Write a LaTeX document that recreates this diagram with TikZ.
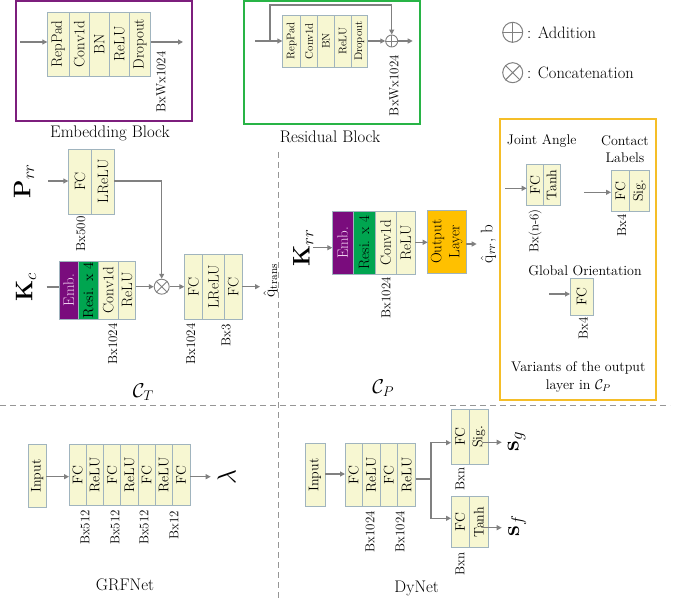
\RequirePackage{fix-cm}
\documentclass[tikz,border=0pt]{standalone}
\usepackage{amsmath}
\usepackage{graphicx}
\usetikzlibrary{arrows.meta}
\definecolor{cellfill}{RGB}{247,247,210}
\definecolor{cellborder}{RGB}{160,180,190}
\definecolor{embpurple}{RGB}{122,12,125}
\definecolor{embtext}{RGB}{245,215,245}
\definecolor{resgreen}{RGB}{0,165,80}
\definecolor{outorange}{RGB}{255,192,0}
\definecolor{arrgray}{RGB}{128,128,128}
\definecolor{embframe}{RGB}{125,30,125}
\definecolor{resframe}{RGB}{40,180,70}
\definecolor{yelframe}{RGB}{245,190,40}
\definecolor{dashgray}{RGB}{150,150,150}
\newcommand\cellat[7]{\node[cell,#6,minimum width={(#4)-(#2)},minimum height={(#5)-(#3)}] (#1) at ({((#2)+(#4))/2},{((#3)+(#5))/2}) {\rotatebox{90}{#7}};}
\begin{document}
\begin{tikzpicture}[x=1pt,y=-1pt,
  cell/.style={draw=cellborder, fill=cellfill, line width=0.6pt, inner sep=0pt, outer sep=0pt},
  f11/.style={font=\fontsize{11}{13}\selectfont},
  f13/.style={font=\fontsize{13}{15.6}\selectfont},
  f14/.style={font=\fontsize{14}{17}\selectfont},
  f15/.style={font=\fontsize{15}{18}\selectfont},
  emb/.style={fill=embpurple, text=embtext},
  resi/.style={fill=resgreen},
  dim/.style={rotate=90, inner sep=0pt, font=\fontsize{13}{15.6}\selectfont},
  title/.style={inner sep=0pt, font=\fontsize{16.8}{20}\selectfont},
  lbl/.style={inner sep=0pt, align=center, font=\fontsize{14}{17}\selectfont},
  mathlbl/.style={rotate=90, inner sep=0pt, font=\fontsize{24}{28}\selectfont},
  arr/.style={draw=arrgray, line width=1.1pt, -{Triangle[length=5pt,width=5pt]}},
  ln/.style={draw=arrgray, line width=1.1pt},
  dashline/.style={draw=dashgray, line width=0.9pt, dash pattern=on 6pt off 4pt},
  opnode/.style={circle, draw=arrgray, line width=0.9pt, inner sep=0pt, fill=white}]
\useasboundingbox (0,0) rectangle (677,604);

% ---------------- Embedding block
\draw[draw=embframe, line width=2pt] (16,1) rectangle (192,121);
\cellat{e1}{47.3}{12.3}{69}{76}{f15}{RepPad}
\cellat{e2}{69}{12.3}{89.3}{76}{f15}{Conv1d}
\cellat{e3}{89.3}{12.3}{109.3}{76}{f15}{BN}
\cellat{e4}{109.3}{12.3}{129.3}{76}{f15}{ReLU}
\cellat{e5}{129.3}{12.3}{150.7}{76}{f15}{Dropout}
\coordinate (ein) at (20,42);
\coordinate (eout) at (183,42);
\draw[arr] (ein) -- (ein -| e1.west);
\draw[arr] (e5.east |- eout) -- (eout);
\node[dim] (edim) at (161,82) {BxWx1024};
\node[title] (etitle) at (110,133) {Embedding Block};

% ---------------- Residual block
\draw[draw=resframe, line width=2pt] (244,1) rectangle (420,124);
\cellat{r1}{282.3}{15}{300.7}{67.3}{f11}{RepPad}
\cellat{r2}{300.7}{15}{317.3}{67.3}{f11}{Conv1d}
\cellat{r3}{317.3}{15}{334.3}{67.3}{f11}{BN}
\cellat{r4}{334.3}{15}{351}{67.3}{f11}{ReLU}
\cellat{r5}{351}{15}{367.7}{67.3}{f11}{Dropout}
\node[opnode, minimum size=12pt] (radd) at (391.7,41) {};
\draw[arrgray, line width=0.9pt] (radd.north) -- (radd.south) (radd.west) -- (radd.east);
\coordinate (rin) at (255,41);
\coordinate (rsk) at (270,41);
\coordinate (rtop) at (270,5);
\coordinate (rout) at (412.7,41);
\draw[arr] (rin) -- (rin -| r1.west);
\draw[arr] (r5.east |- radd) -- (radd.west);
\draw[arr] (rsk) -- (rtop) -| (radd.north);
\draw[arr] (radd.east) -- (rout);
\node[dim] (rdim) at (394,85.5) {BxWx1024};
\node[title] (rtitle) at (330,137) {Residual Block};

% ---------------- Legend
\node[opnode, minimum size=20pt, line width=1pt] (ladd) at (512.7,32.3) {};
\draw[arrgray, line width=1pt] (ladd.north) -- (ladd.south) (ladd.west) -- (ladd.east);
\node[anchor=west, inner sep=0pt, font=\fontsize{16.5}{20}\selectfont] (laddt) at (527,32.3) {: Addition};
\node[opnode, minimum size=20pt, line width=1pt] (lcat) at (512.7,72.7) {};
\draw[arrgray, line width=1pt] (lcat.north east) -- (lcat.south west) (lcat.north west) -- (lcat.south east);
\node[anchor=west, inner sep=0pt, font=\fontsize{16.5}{20}\selectfont] (lcatt) at (527,72.7) {: Concatenation};

% ---------------- Dashed separators
\draw[dashline] (0,405) -- (670,405);
\draw[dashline] (278,152) -- (278,600);

% ---------------- C_T
\node[mathlbl] (prr) at (24,181) {$\mathbf{P}_{rr}$};
\coordinate (pin) at (48,181);
\cellat{p1}{68.3}{149}{91.7}{214}{f15}{FC}
\cellat{p2}{91.7}{149}{114.3}{214}{f15}{LReLU}
\draw[arr] (pin) -- (pin -| p1.west);
\node[dim] (pdim) at (80.7,234) {Bx500};
\node[mathlbl] (kc) at (26,287) {$\mathbf{K}_{c}$};
\coordinate (kin) at (46.7,287);
\cellat{k1}{59}{261}{78.3}{319.3}{f15,emb}{Emb.}
\cellat{k2}{78.3}{261}{98.3}{319.3}{f15,resi,font=\fontsize{14.5}{17}\selectfont}{Resi. x 4}
\cellat{k3}{98.3}{261}{118.3}{319.3}{f15}{Conv1d}
\cellat{k4}{118.3}{261}{135.7}{319.3}{f15}{ReLU}
\draw[ln] (kin) -- (kin -| k1.west);
\node[opnode, minimum size=15pt] (cat) at (161.7,286.7) {};
\draw[arrgray, line width=0.9pt] (cat.north east) -- (cat.south west) (cat.north west) -- (cat.south east);
\draw[arr] (p2.east |- pin) -| (cat.north);
\draw[arr] (k4.east |- cat) -- (cat.west);
\cellat{t1}{184.3}{254.3}{202.7}{319.3}{f15}{FC}
\cellat{t2}{202.7}{254.3}{224.3}{319.3}{f15}{LReLU}
\cellat{t3}{224.3}{254.3}{242.3}{319.3}{f15}{FC}
\draw[arr] (cat.east) -- (cat -| t1.west);
\coordinate (tout) at (260,286.7);
\draw[arr] (t3.east |- tout) -- (tout);
\node[rotate=90, inner sep=0pt, font=\fontsize{16}{19}\selectfont] (qtrans) at (270.7,280.7) {$\hat{\mathrm{q}}_{\mathrm{trans}}$};
\node[dim] (kdim) at (112.7,344) {Bx1024};
\node[dim] (tdim1) at (190.7,344) {Bx1024};
\node[dim] (tdim2) at (226,335) {Bx3};
\node[inner sep=0pt, font=\fontsize{20}{24}\selectfont] (ct) at (143.3,391.7) {$\mathcal{C}_T$};

% ---------------- C_P
\node[mathlbl] (krr) at (303.3,248) {$\mathbf{K}_{rr}$};
\coordinate (krin) at (313.3,247.7);
\cellat{c1}{332.3}{211}{353.3}{274.3}{f15,emb}{Emb.}
\cellat{c2}{353.3}{211}{375}{274.3}{f15,resi}{Resi. x 4}
\cellat{c3}{375}{211}{396.7}{274.3}{f15}{Conv1d}
\cellat{c4}{396.7}{211}{415}{274.3}{f15}{ReLU}
\cellat{outl}{427.7}{210}{466}{273.3}{f15,fill=outorange}{\begin{tabular}{@{}c@{}}Output\\Layer\end{tabular}}
\draw[arr] (krin) -- (krin -| c1.west);
\coordinate (cmid) at (420,242.3);
\draw[arr] (c4.east |- cmid) -- (cmid -| outl.west);
\coordinate (cout) at (476.7,244);
\draw[arr] (outl.east |- cout) -- (cout);
\node[rotate=90, inner sep=0pt, font=\fontsize{17}{20}\selectfont] (qrr) at (488.3,244) {$\hat{\mathrm{q}}_{rr}$, b};
\node[dim] (cdim) at (386,297.5) {Bx1024};
\node[inner sep=0pt, font=\fontsize{20}{24}\selectfont] (cp) at (383.3,388.3) {$\mathcal{C}_P$};

% ---------------- Output layer variants
\draw[draw=yelframe, line width=2pt] (500,119) rectangle (656,400);
\node[lbl] (jat) at (541.7,140.7) {Joint Angle};
\coordinate (jain) at (505,188.3);
\cellat{ja1}{526.7}{164}{543.3}{205.7}{f14}{FC}
\cellat{ja2}{543.3}{164}{560}{205.7}{f14}{Tanh}
\draw[arr] (jain) -- (jain -| ja1.west);
\node[dim] (jadim) at (535,230.8) {Bx(n-6)};
\node[lbl] (clt) at (625,149.2) {Contact\\Labels};
\coordinate (clin) at (584.3,192.3);
\cellat{cl1}{611}{170}{629.5}{211.7}{f14}{FC}
\cellat{cl2}{629.5}{170}{649.3}{211.7}{f14}{Sig.}
\draw[arr] (clin) -- (clin -| cl1.west);
\node[dim] (cldim) at (621.7,225.3) {Bx4};
\node[lbl] (got) at (585,270.7) {Global Orientation};
\coordinate (goin) at (549.3,294);
\cellat{go1}{570}{278.3}{593.3}{315}{f14}{FC}
\draw[arr] (goin) -- (goin -| go1.west);
\node[dim] (godim) at (583.3,328.3) {Bx4};
\node[lbl, font=\fontsize{14}{17.7}\selectfont] (var) at (578.3,377) {Variants of the output\\layer in $\mathcal{C}_P$};

% ---------------- GRFNet
\cellat{gin}{28.3}{444.3}{46}{507.7}{f14}{Input}
\cellat{g1}{69}{444.3}{86}{505.7}{f14}{FC}
\cellat{g2}{86}{444.3}{103.3}{505.7}{f14}{ReLU}
\cellat{g3}{103.3}{444.3}{120.7}{505.7}{f14}{FC}
\cellat{g4}{120.7}{444.3}{138.3}{505.7}{f14}{ReLU}
\cellat{g5}{138.3}{444.3}{155}{505.7}{f14}{FC}
\cellat{g6}{155}{444.3}{172.3}{505.7}{f14}{ReLU}
\cellat{g7}{172.3}{444.3}{190}{505.7}{f14}{FC}
\coordinate (gmid) at (60,476.7);
\draw[arr] (gin.east |- gmid) -- (gmid -| g1.west);
\coordinate (gout) at (210.7,476.7);
\draw[arr] (g7.east |- gout) -- (gout);
\node[rotate=90, inner sep=0pt, font=\fontsize{26}{30}\selectfont] (lam) at (226.7,476.7) {$\lambda$};
\node[dim] (gd1) at (85,527.5) {Bx512};
\node[dim] (gd2) at (115,527.5) {Bx512};
\node[dim] (gd3) at (144,527.5) {Bx512};
\node[dim] (gd4) at (174,525) {Bx12};
\node[title] (gtitle) at (125,585) {GRFNet};

% ---------------- DyNet
\cellat{din}{305}{443.3}{325}{506.7}{f14}{Input}
\cellat{d1}{345}{443.3}{362.3}{506.7}{f14}{FC}
\cellat{d2}{362.3}{443.3}{380}{506.7}{f14}{ReLU}
\cellat{d3}{380}{443.3}{397.7}{506.7}{f14}{FC}
\cellat{d4}{397.7}{443.3}{415.7}{506.7}{f14}{ReLU}
\coordinate (dmid) at (335,474);
\draw[arr] (din.east |- dmid) -- (dmid -| d1.west);
\cellat{sg1}{451}{409}{469.3}{464.3}{f14}{FC}
\cellat{sg2}{469.3}{409}{488.3}{464.3}{f14}{Sig.}
\cellat{sf1}{451}{496.7}{469.3}{547.7}{f14}{FC}
\cellat{sf2}{469.3}{496.7}{488.3}{547.7}{f14}{Tanh}
\coordinate (dsplit) at (431,479);
\coordinate (dup) at (431,442.7);
\coordinate (ddown) at (431,518.3);
\draw[ln] (d4.east |- dsplit) -- (dsplit);
\draw[arr] (dsplit) -- (dup) -- (dup -| sg1.west);
\draw[arr] (dsplit) -- (ddown) -- (ddown -| sf1.west);
\coordinate (sgst) at (483.3,442.3);
\coordinate (sgout) at (501.7,442.3);
\coordinate (sfst) at (483.3,527.7);
\coordinate (sfout) at (501.7,527.7);
\draw[arr] (sgst) -- (sgout);
\draw[arr] (sfst) -- (sfout);
\node[mathlbl] (sg) at (516.7,441.7) {$\mathbf{s}_{g}$};
\node[mathlbl] (sf) at (517.3,526) {$\mathbf{s}_{f}$};
\node[dim] (sgdim) at (460,479.2) {Bxn};
\node[dim] (sfdim) at (460,564.2) {Bxn};
\node[dim] (dd1) at (370,531.7) {Bx1024};
\node[dim] (dd2) at (400,531.7) {Bx1024};
\node[title] (dtitle) at (416.7,588.3) {DyNet};
\end{tikzpicture}
\end{document}
